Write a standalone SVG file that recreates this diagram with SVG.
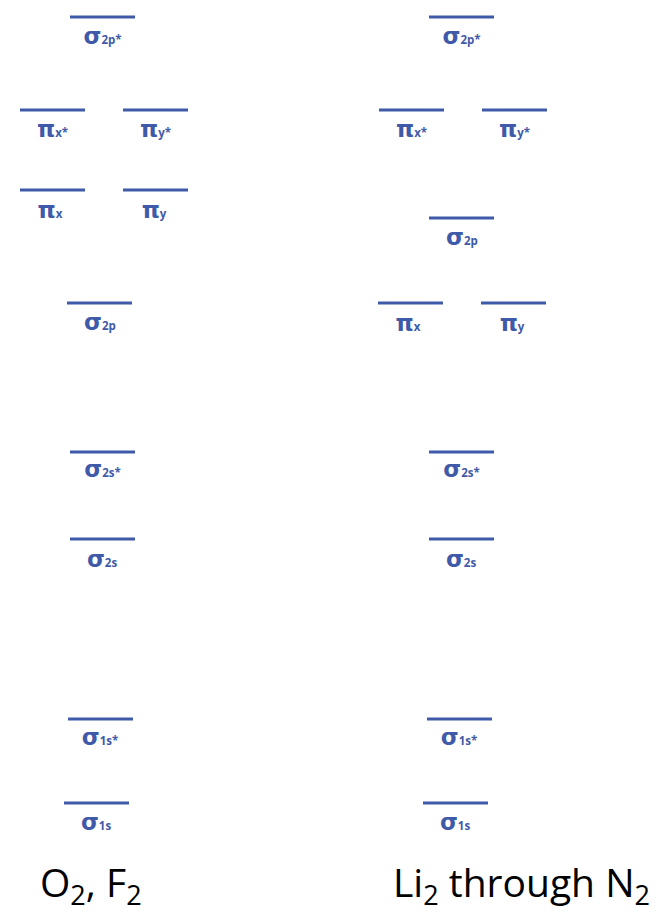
<svg xmlns="http://www.w3.org/2000/svg" width="666" height="921" viewBox="0 0 666 921">
<style>
.lv{stroke:#3F5AA8;stroke-width:3;fill:none}
.lb{font-family:"Open Sans","DejaVu Sans",sans-serif;font-weight:bold;fill:#3F5AA8;text-anchor:middle}
.g{font-family:"DejaVu Sans",sans-serif;font-size:23px;font-weight:bold}
.s{font-size:11.5px}
.cap{font-family:"Open Sans","Liberation Sans",sans-serif;font-size:39px;fill:#000}
.sub{font-size:27px}
</style>
<rect width="666" height="921" fill="#fff"/>
<g id="left">
<g id="L_s2p_star"><line class="lv" x1="70" y1="17" x2="135" y2="17"/><text class="lb" x="102.5" y="44"><tspan class="g">σ</tspan><tspan class="s">2p*</tspan></text></g>
<g id="L_px_star"><line class="lv" x1="20" y1="110" x2="85" y2="110"/><text class="lb" x="52.5" y="137"><tspan class="g">π</tspan><tspan class="s">x*</tspan></text></g>
<g id="L_py_star"><line class="lv" x1="123" y1="110" x2="188" y2="110"/><text class="lb" x="155.5" y="137"><tspan class="g">π</tspan><tspan class="s">y*</tspan></text></g>
<g id="L_px"><line class="lv" x1="20" y1="190" x2="85" y2="190"/><text class="lb" x="50" y="218"><tspan class="g">π</tspan><tspan class="s">x</tspan></text></g>
<g id="L_py"><line class="lv" x1="123" y1="190" x2="188" y2="190"/><text class="lb" x="154" y="218"><tspan class="g">π</tspan><tspan class="s">y</tspan></text></g>
<g id="L_s2p"><line class="lv" x1="67" y1="303" x2="132" y2="303"/><text class="lb" x="100" y="330"><tspan class="g">σ</tspan><tspan class="s">2p</tspan></text></g>
<g id="L_s2s_star"><line class="lv" x1="70" y1="452" x2="135" y2="452"/><text class="lb" x="102.5" y="477"><tspan class="g">σ</tspan><tspan class="s">2s*</tspan></text></g>
<g id="L_s2s"><line class="lv" x1="70" y1="539" x2="135" y2="539"/><text class="lb" x="102" y="567"><tspan class="g">σ</tspan><tspan class="s">2s</tspan></text></g>
<g id="L_s1s_star"><line class="lv" x1="68" y1="719" x2="133" y2="719"/><text class="lb" x="100" y="745"><tspan class="g">σ</tspan><tspan class="s">1s*</tspan></text></g>
<g id="L_s1s"><line class="lv" x1="64" y1="803" x2="129" y2="803"/><text class="lb" x="96" y="830"><tspan class="g">σ</tspan><tspan class="s">1s</tspan></text></g>
</g>
<g id="right">
<g id="R_s2p_star"><line class="lv" x1="429" y1="17" x2="494" y2="17"/><text class="lb" x="461.5" y="44"><tspan class="g">σ</tspan><tspan class="s">2p*</tspan></text></g>
<g id="R_px_star"><line class="lv" x1="379" y1="110" x2="444" y2="110"/><text class="lb" x="411.5" y="137"><tspan class="g">π</tspan><tspan class="s">x*</tspan></text></g>
<g id="R_py_star"><line class="lv" x1="482" y1="110" x2="547" y2="110"/><text class="lb" x="514.5" y="137"><tspan class="g">π</tspan><tspan class="s">y*</tspan></text></g>
<g id="R_s2p"><line class="lv" x1="429" y1="218" x2="494" y2="218"/><text class="lb" x="462" y="245"><tspan class="g">σ</tspan><tspan class="s">2p</tspan></text></g>
<g id="R_px"><line class="lv" x1="378" y1="303" x2="443" y2="303"/><text class="lb" x="408" y="331"><tspan class="g">π</tspan><tspan class="s">x</tspan></text></g>
<g id="R_py"><line class="lv" x1="481" y1="303" x2="546" y2="303"/><text class="lb" x="512" y="331"><tspan class="g">π</tspan><tspan class="s">y</tspan></text></g>
<g id="R_s2s_star"><line class="lv" x1="429" y1="452" x2="494" y2="452"/><text class="lb" x="461.5" y="477"><tspan class="g">σ</tspan><tspan class="s">2s*</tspan></text></g>
<g id="R_s2s"><line class="lv" x1="429" y1="539" x2="494" y2="539"/><text class="lb" x="461" y="567"><tspan class="g">σ</tspan><tspan class="s">2s</tspan></text></g>
<g id="R_s1s_star"><line class="lv" x1="427" y1="719" x2="492" y2="719"/><text class="lb" x="459" y="745"><tspan class="g">σ</tspan><tspan class="s">1s*</tspan></text></g>
<g id="R_s1s"><line class="lv" x1="423" y1="803" x2="488" y2="803"/><text class="lb" x="455" y="830"><tspan class="g">σ</tspan><tspan class="s">1s</tspan></text></g>
</g>
<g id="captions">
<text class="cap" x="40" y="897">O<tspan class="sub" dy="8">2</tspan><tspan dy="-8">, F</tspan><tspan class="sub" dy="8">2</tspan></text>
<text class="cap" x="393" y="897">Li<tspan class="sub" dy="8">2</tspan><tspan dy="-8"> through N</tspan><tspan class="sub" dy="8">2</tspan></text>
</g>
<g id="connectors"/>
</svg>
